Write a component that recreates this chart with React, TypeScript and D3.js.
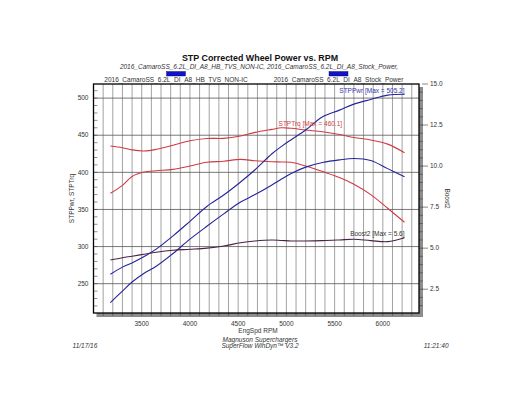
import React, { useEffect, useRef } from "react";
import * as d3 from "d3";

// engine speed samples (rpm)
const rpm = [3175, 3300, 3400, 3525, 3650, 3825, 4000, 4175, 4350, 4525, 4675, 4850, 4950, 5050, 5200, 5375, 5550, 5700, 5875, 6050, 6225];

// HB TVS NON-IC run
const tvsTrq = [435.4, 433.2, 430.2, 428.8, 431, 436.6, 442.5, 445.6, 445.8, 449, 453.8, 457.9, 460.1, 459.3, 457, 454.6, 451, 447, 443.5, 438, 426.4];
const tvsPwr = [262.7, 272.3, 278, 286.5, 296.5, 314.4, 334, 354, 369.4, 387, 403.5, 425, 435, 444, 457, 474.8, 483.8, 491.9, 498.2, 504, 505.2];

// Stock run
const stockTrq = [371.7, 382.5, 394.5, 400.4, 402.2, 404, 408.5, 413.5, 415, 417.5, 415.6, 414.3, 414, 413.5, 408.5, 401, 393, 384, 370, 351.6, 332.7];
const stockPwr = [224.5, 240, 252.2, 264, 273.5, 290.7, 310, 327.3, 344, 360, 370, 383, 391, 398.5, 407, 413.2, 416.8, 418.7, 416, 405, 394];

// boost (psi), right axis
const boost = [4.28, 4.42, 4.51, 4.63, 4.75, 4.87, 4.93, 5.0, 5.13, 5.33, 5.44, 5.5, 5.47, 5.44, 5.44, 5.46, 5.5, 5.54, 5.46, 5.4, 5.64];

const leftTicks = [250, 300, 350, 400, 450, 500];
const rightTicks = [2.5, 5.0, 7.5, 10.0, 12.5, 15.0];
const xTicks = [3500, 4000, 4500, 5000, 5500, 6000];
const runNames = ["2016_CamaroSS_6.2L_DI_A8_HB_TVS_NON-IC", "2016_CamaroSS_6.2L_DI_A8_Stock_Power"];

const FONT = "'Liberation Sans', Arial, sans-serif";
const RED = "#cf3a45";
const BLUE = "#25249a";
const PURPLE = "#4a2245";

export default function App() {
  const svgRef = useRef<SVGSVGElement>(null);

  useEffect(() => {
    const svg = d3.select(svgRef.current);
    svg.selectAll("*").remove();

    const left = 93.5, right = 419, top = 84, bottom = 313;
    const x = d3.scaleLinear().domain([3000, 6375]).range([left, right]);
    const yL = d3.scaleLinear().domain([210.5, 519]).range([bottom, top]);
    const yR = d3.scaleLinear().domain([1.05, 15]).range([bottom, top]);

    svg.append("rect").attr("width", 520).attr("height", 399).attr("fill", "#fff");

    // drop shadow of the plot frame
    svg.append("rect")
      .attr("x", left + 3).attr("y", top + 3)
      .attr("width", right - left + 1).attr("height", bottom - top + 1)
      .attr("fill", "#8d8d8d");
    svg.append("rect")
      .attr("x", left).attr("y", top)
      .attr("width", right - left).attr("height", bottom - top)
      .attr("fill", "#fff");

    // grid
    const g = svg.append("g");
    d3.range(3100, 6375, 100).forEach((r) => {
      g.append("line")
        .attr("x1", x(r)).attr("x2", x(r)).attr("y1", top).attr("y2", bottom)
        .attr("stroke", "#8a8a8a").attr("stroke-width", 0.8);
    });
    leftTicks.forEach((v) => {
      g.append("line")
        .attr("x1", left).attr("x2", right).attr("y1", yL(v)).attr("y2", yL(v))
        .attr("stroke", "#555").attr("stroke-width", 0.8);
    });

    // left minor ticks (inside)
    d3.range(220, 520, 10).forEach((v) => {
      g.append("line")
        .attr("x1", left).attr("x2", left + 4).attr("y1", yL(v)).attr("y2", yL(v))
        .attr("stroke", "#444").attr("stroke-width", 0.6);
    });
    // bottom ticks on shadow
    d3.range(3100, 6375, 100).forEach((r) => {
      g.append("line")
        .attr("x1", x(r)).attr("x2", x(r)).attr("y1", bottom).attr("y2", bottom + 3)
        .attr("stroke", "#444").attr("stroke-width", 0.6);
    });
    // right ticks on shadow
    d3.range(1.5, 15, 0.5).forEach((v) => {
      g.append("line")
        .attr("x1", right).attr("x2", right + 4).attr("y1", yR(v)).attr("y2", yR(v))
        .attr("stroke", "#444").attr("stroke-width", 0.6);
    });

    // frame
    svg.append("rect")
      .attr("x", left).attr("y", top)
      .attr("width", right - left).attr("height", bottom - top)
      .attr("fill", "none").attr("stroke", "#000").attr("stroke-width", 1.3);

    // axis labels
    const txt = (sel: any) => sel.attr("font-family", FONT).attr("font-size", 6.5).attr("fill", "#333");
    leftTicks.forEach((v) => {
      svg.append("text").call(txt)
        .attr("x", left - 5).attr("y", yL(v)).attr("dy", "0.35em")
        .attr("text-anchor", "end").text(v);
    });
    rightTicks.forEach((v) => {
      svg.append("line")
        .attr("x1", right + 3).attr("x2", right + 9).attr("y1", yR(v)).attr("y2", yR(v))
        .attr("stroke", "#555").attr("stroke-width", 0.7);
      svg.append("text").call(txt)
        .attr("x", right + 11).attr("y", yR(v)).attr("dy", "0.35em")
        .text(v.toFixed(1));
    });
    xTicks.forEach((v) => {
      svg.append("text").call(txt)
        .attr("x", x(v)).attr("y", bottom + 13)
        .attr("text-anchor", "middle").text(v);
    });

    svg.append("text").call(txt)
      .attr("transform", `translate(74,${(top + bottom) / 2}) rotate(-90)`)
      .attr("text-anchor", "middle").text("STPPwr, STPTrq");
    svg.append("text").call(txt)
      .attr("transform", `translate(445,${(top + bottom) / 2}) rotate(90)`)
      .attr("text-anchor", "middle").text("Boost2");
    svg.append("text").call(txt)
      .attr("x", 258).attr("y", bottom + 19.5)
      .attr("text-anchor", "middle").text("EngSpd RPM");

    // lines
    const lineL = (vals: number[]) => d3.line<number>()
      .x((_, i) => x(rpm[i])).y((d) => yL(d))
      .curve(d3.curveCatmullRom.alpha(0.5))(vals);
    const lineR = d3.line<number>()
      .x((_, i) => x(rpm[i])).y((d) => yR(d))
      .curve(d3.curveCatmullRom.alpha(0.5));

    const plot = svg.append("g").attr("fill", "none").attr("stroke-width", 1.1);
    plot.append("path").attr("d", lineL(tvsTrq)).attr("stroke", RED);
    plot.append("path").attr("d", lineL(stockTrq)).attr("stroke", RED);
    plot.append("path").attr("d", lineL(tvsPwr)).attr("stroke", BLUE);
    plot.append("path").attr("d", lineL(stockPwr)).attr("stroke", BLUE);
    plot.append("path").attr("d", lineR(boost)).attr("stroke", PURPLE);

    // max annotations
    const last = rpm.length - 1;
    const maxPwr = d3.max([...tvsPwr, ...stockPwr]) as number;
    const maxTrq = d3.max([...tvsTrq, ...stockTrq]) as number;
    const trqAt = rpm[tvsTrq.indexOf(maxTrq)];
    const maxBoost = d3.max(boost) as number;

    svg.append("text").call(txt).attr("fill", "#3535b0")
      .attr("x", x(rpm[last])).attr("y", yL(maxPwr) - 1.5)
      .attr("text-anchor", "end").text(`STPPwr [Max = ${maxPwr.toFixed(1)}]`);
    svg.append("text").call(txt).attr("fill", "#d04040")
      .attr("x", x(trqAt) - 3).attr("y", yL(maxTrq) - 1.5)
      .text(`STPTrq [Max = ${maxTrq.toFixed(1)}]`);
    svg.append("text").call(txt).attr("fill", "#333")
      .attr("x", x(rpm[last])).attr("y", yR(maxBoost) - 1.5)
      .attr("text-anchor", "end").text(`Boost2 [Max = ${maxBoost.toFixed(1)}]`);

    // legend for runs
    const legendX = [176, 338.5];
    runNames.forEach((name, i) => {
      svg.append("rect")
        .attr("x", legendX[i] - 9.5).attr("y", 71.5).attr("width", 19).attr("height", 4.5)
        .attr("fill", "#1212c8").attr("stroke", "#000066").attr("stroke-width", 0.4);
      svg.append("text").call(txt)
        .attr("x", legendX[i]).attr("y", 81.8)
        .attr("text-anchor", "middle").text(name);
    });

    // titles and footer
    svg.append("text")
      .attr("x", 260).attr("y", 60.5).attr("text-anchor", "middle")
      .attr("font-family", FONT).attr("font-weight", "bold").attr("font-size", 8.9).attr("fill", "#111")
      .text("STP Corrected Wheel Power vs. RPM");
    svg.append("text").call(txt).attr("font-style", "italic")
      .attr("x", 259).attr("y", 68.5).attr("text-anchor", "middle")
      .text(`${runNames[0]}, ${runNames[1]},`);

    svg.append("text").call(txt).attr("font-style", "italic")
      .attr("x", 260).attr("y", 341.5).attr("text-anchor", "middle").text("Magnuson Superchargers");
    svg.append("text").call(txt).attr("font-style", "italic")
      .attr("x", 260).attr("y", 348).attr("text-anchor", "middle").text("SuperFlow WinDyn\u2122 V3.2");
    svg.append("text").call(txt).attr("font-style", "italic")
      .attr("x", 72.5).attr("y", 348).text("11/17/16");
    svg.append("text").call(txt).attr("font-style", "italic")
      .attr("x", 448.5).attr("y", 348).attr("text-anchor", "end").text("11:21:40");
  }, []);

  return (
    <svg ref={svgRef} width={520} height={399}
      style={{ position: "absolute", left: 0, top: 0, display: "block" }} />
  );
}
